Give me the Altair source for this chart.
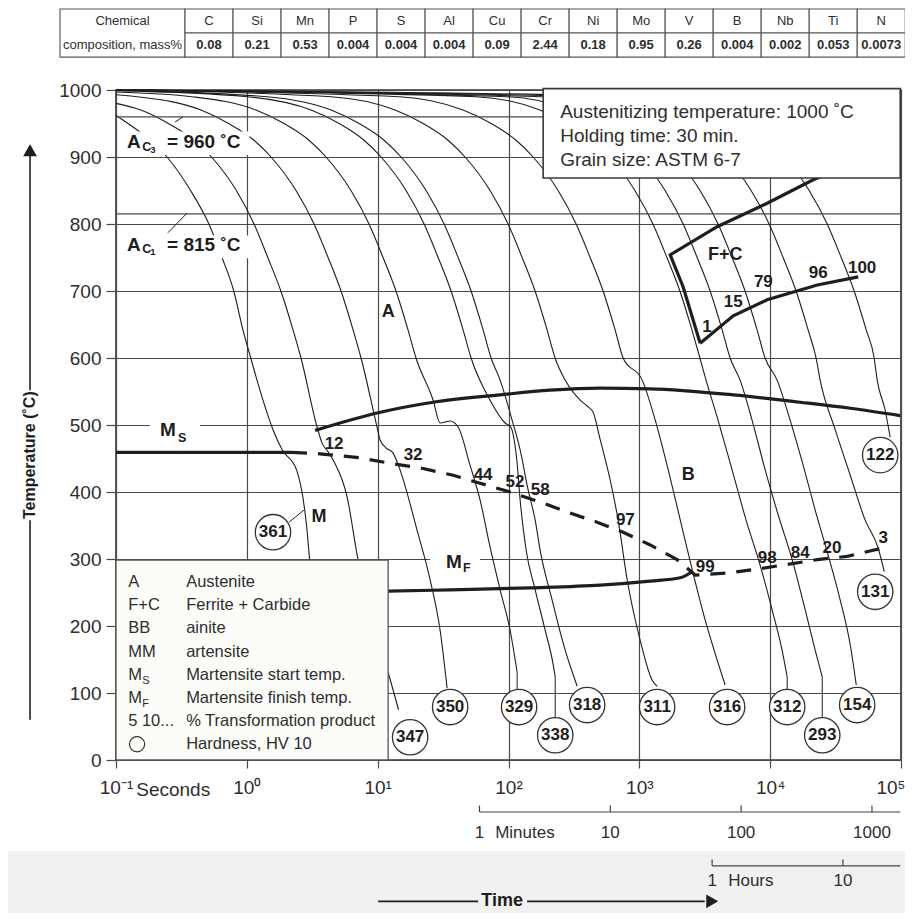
import math
import altair as alt
import pandas as pd

FONT = "Liberation Sans"
INK = "#1e1e1e"
TXT = "#2e2e2e"
GRID = "#4a4a4a"

# ---------------- chemical composition table ----------------
elements = ["C", "Si", "Mn", "P", "S", "Al", "Cu", "Cr", "Ni", "Mo", "V", "B", "Nb", "Ti", "N"]
mass_percent = ["0.08", "0.21", "0.53", "0.004", "0.004", "0.004", "0.09", "2.44",
                "0.18", "0.95", "0.26", "0.004", "0.002", "0.053", "0.0073"]

# ---------------- cooling curves: log10(time / s) and temperature (°C) ----------------
cool_log_t = {
    "c1": [-1.0, -0.74, -0.61, -0.43, -0.29, -0.19, -0.10, -0.03, 0.03, 0.10, 0.20, 0.27, 0.38, 0.46, 0.48, 0.51],
    "c2": [-1.0, -0.81, -0.60, -0.40, -0.27, -0.08, 0.055, 0.16, 0.26, 0.353, 0.414, 0.537, 0.575, 0.621, 0.667,
           0.766, 0.850, 0.957, 1.080, 1.160],
    "c3": [-1.0, -0.84, -0.35, -0.14, 0.055, 0.185, 0.376, 0.514, 0.621, 0.720, 0.812, 0.873, 0.995, 1.018, 1.064,
           1.118, 1.171, 1.301, 1.401, 1.477, 1.531],
    "c4": [-1.0, -0.42, 0.07, 0.284, 0.475, 0.605, 0.796, 0.934, 1.041, 1.140, 1.232, 1.293, 1.424, 1.477, 1.554,
           1.615, 1.706, 1.783, 1.859, 1.936, 2.012, 2.066],
    "c5": [-1.0, 0.002, 0.491, 0.705, 0.896, 1.026, 1.217, 1.355, 1.462, 1.561, 1.653, 1.714, 1.859, 1.974, 2.020,
           2.043, 2.066, 2.089, 2.135, 2.204, 2.280, 2.342, 2.357],
    "c6": [-1.0, 0.155, 0.644, 0.858, 1.049, 1.179, 1.370, 1.508, 1.615, 1.714, 1.806, 1.867, 1.936, 2.028, 2.089,
           2.150, 2.204, 2.242, 2.333, 2.433, 2.509, 2.525],
    "c7": [-1.0, 0.644, 1.133, 1.347, 1.538, 1.668, 1.859, 1.997, 2.104, 2.203, 2.295, 2.356, 2.433, 2.548, 2.609,
           2.647, 2.701, 2.777, 2.838, 2.907, 3.006, 3.098, 3.136],
    "c8": [-1.0, 1.164, 1.653, 1.867, 2.058, 2.188, 2.379, 2.517, 2.624, 2.723, 2.815, 2.876, 3.022, 3.122, 3.221,
           3.313, 3.404, 3.503, 3.595, 3.656],
    "c9": [-1.0, 1.751, 2.240, 2.454, 2.645, 2.775, 2.966, 3.104, 3.211, 3.310, 3.402, 3.463, 3.510, 3.602, 3.709,
           3.816, 3.923, 4.015, 4.091, 4.130],
    "c10": [-1.0, 1.982, 2.471, 2.685, 2.876, 3.006, 3.197, 3.335, 3.442, 3.541, 3.633, 3.694, 3.770, 3.862, 3.962,
            4.061, 4.168, 4.268, 4.344, 4.398],
    "c11": [-1.0, 2.249, 2.738, 2.952, 3.143, 3.273, 3.464, 3.602, 3.709, 3.808, 3.900, 3.961, 4.053, 4.153, 4.252,
            4.344, 4.443, 4.535, 4.612, 4.658],
    "c12": [-1.0, 2.639, 3.128, 3.342, 3.533, 3.663, 3.854, 3.992, 4.099, 4.198, 4.290, 4.351, 4.382, 4.497, 4.612,
            4.726, 4.826, 4.872],
    "c13": [-1.0, 3.083, 3.572, 3.786, 3.977, 4.107, 4.298, 4.436, 4.543, 4.642, 4.734, 4.795, 4.818, 4.879, 4.917],
}
cool_temp = {
    "c1": [962, 925, 900, 850, 800, 750, 700, 642, 600, 552, 493, 463, 433, 343, 299, 254],
    "c2": [980, 970, 950, 925, 900, 850, 800, 750, 700, 642, 600, 497, 473, 460, 445, 393, 299, 216, 131, 75],
    "c3": [993, 990, 970, 950, 925, 900, 850, 800, 750, 700, 642, 600, 497, 478, 466, 458, 433, 343, 269, 194, 107],
    "c4": [997, 990, 970, 950, 925, 900, 850, 800, 750, 700, 642, 600, 537, 503, 506, 497, 440, 388, 318, 254, 194, 131],
    "c5": [999, 990, 970, 950, 925, 900, 850, 800, 750, 700, 642, 600, 537, 503, 496, 478, 443, 388, 313, 254, 194,
           142, 124],
    "c6": [999.5, 990, 970, 950, 925, 900, 850, 800, 750, 700, 642, 600, 567, 507, 463, 403, 358, 313, 239, 164, 119, 110],
    "c7": [1000, 990, 970, 950, 925, 900, 850, 800, 750, 700, 642, 600, 567, 537, 527, 519, 478, 418, 358, 269, 179,
           119, 110],
    "c8": [1000, 990, 970, 950, 925, 900, 850, 800, 750, 700, 642, 600, 567, 507, 433, 358, 284, 209, 149, 112],
    "c9": [1000, 990, 970, 950, 925, 900, 850, 800, 750, 700, 642, 600, 567, 507, 433, 358, 291, 224, 164, 124],
    "c10": [1000, 990, 970, 950, 925, 900, 850, 800, 750, 700, 642, 600, 567, 507, 433, 366, 299, 224, 164, 124],
    "c11": [1000, 990, 970, 950, 925, 900, 850, 800, 750, 700, 642, 600, 567, 507, 440, 373, 306, 239, 172, 112],
    "c12": [1000, 990, 970, 950, 925, 900, 850, 800, 750, 700, 642, 600, 567, 493, 425, 358, 316, 281],
    "c13": [1000, 990, 970, 950, 925, 900, 850, 800, 750, 700, 642, 600, 567, 522, 482],
}

# ---------------- hardness HV 10 (circles) ----------------
hv_values = ["361", "347", "350", "329", "338", "318", "311", "316", "312", "293", "154", "131", "122"]
hv_log_t = [0.200, 1.248, 1.554, 2.081, 2.357, 2.601, 3.136, 3.671, 4.130, 4.398, 4.665, 4.803, 4.841]
hv_temp = [340, 34, 79, 79, 37, 82, 79, 79, 79, 37, 82, 251, 455]

# short connectors from curve ends to hardness circles
lead_log_t = {"l361": [0.437, 0.323], "l329": [2.066, 2.066], "l338": [2.357, 2.357],
              "l312": [4.130, 4.130], "l293": [4.398, 4.398]}
lead_temp = {"l361": [373, 355], "l329": [131, 105], "l338": [124, 64],
             "l312": [124, 105], "l293": [124, 64]}

# ---------------- % transformation product ----------------
pct_text = ["12", "32", "44", "52", "58", "97", "99", "98", "84", "20", "3", "1", "15", "79", "96", "100"]
pct_log_t = [0.667, 1.271, 1.806, 2.050, 2.243, 2.893, 3.503, 3.977, 4.229, 4.473, 4.864,
             3.518, 3.718, 3.948, 4.367, 4.703]
pct_temp = [472, 455, 425, 415, 403, 358, 288, 302, 309, 316, 331, 646, 684, 713, 727, 734]

# ---------------- transformation boundaries ----------------
bs_log_t = [0.522, 0.996, 1.424, 1.936, 2.318, 2.701, 3.083, 3.718, 4.230, 4.612, 4.994]
bs_temp = [492, 518, 534, 545, 552, 555, 554, 545, 534, 525, 514]
ms_solid_log_t = [-1.0, 0.345]
ms_solid_temp = [459, 459]
ms_dash_log_t = [0.345, 0.560, 0.865, 1.118, 1.324, 1.577, 1.783, 2.012, 2.242, 2.448, 2.677, 2.876, 3.083,
                 3.289, 3.427, 3.671, 3.901, 4.100, 4.360, 4.589, 4.787, 4.902]
ms_dash_temp = [459, 457, 451, 442, 436, 425, 413, 400, 385, 370, 355, 340, 321, 299, 276, 279, 285, 291, 299,
                304, 313, 318]
mf_log_t = [0.8, 1.080, 1.554, 2.165, 2.701, 3.083, 3.312, 3.404]
mf_temp = [251, 252, 254, 257, 261, 267, 272, 281]
fc_start_log_t = [4.612, 4.329, 3.977, 3.595, 3.236, 3.335, 3.465]
fc_start_temp = [888, 866, 831, 796, 754, 706, 622]
fc_finish_log_t = [3.465, 3.718, 3.977, 4.360, 4.673]
fc_finish_temp = [622, 663, 687, 709, 721]

# ---------------- region labels ----------------
phase_text = ["A", "B", "M", "F+C"]
phase_log_t = [1.080, 3.373, 0.552, 3.657]
phase_temp = [669, 425, 363, 754]

ac_temps = [960, 815]

info_lines = ["Austenitizing temperature: 1000 ˚C", "Holding time: 30 min.", "Grain size: ASTM 6-7"]

legend_codes = ["A", "F+C", "BB", "MM", "M", "M", "5 10...", ""]
legend_subs = ["", "", "", "", "S", "F", "", ""]
legend_desc = ["Austenite", "Ferrite + Carbide", "ainite", "artensite", "Martensite start temp.",
               "Martensite finish temp.", "% Transformation product", "Hardness, HV 10"]

second_ticks = [0.1, 1, 10, 100, 1000, 10000, 100000]
second_labels = ["10⁻¹", "10⁰", "10¹", "10²", "10³", "10⁴", "10⁵"]
temp_ticks = [0, 100, 200, 300, 400, 500, 600, 700, 800, 900, 1000]
minute_ticks = [1, 10, 100, 1000]
hour_ticks = [1, 10]

# =====================================================================
XS = alt.Scale(type="log", domain=[0.1, 1e5], nice=False)
YS = alt.Scale(domain=[0, 1000], nice=False, zero=False)

label_js = "[" + ",".join("'" + s + "'" for s in second_labels) + "][round(log(datum.value)/LN10)+1]"
X_AXIS = alt.Axis(values=second_ticks, grid=True, gridColor=GRID, gridWidth=1.2, domain=False,
                  tickSize=8, tickColor=GRID, tickWidth=1.2, labelFont=FONT, labelFontSize=19,
                  labelColor=TXT, labelPadding=10, labelFlush=False, title=None, labelExpr=label_js,
                  labelAlign={"condition": {"test": "datum.value >= 100000", "value": "right"},
                              "value": "center"},
                  labelOffset={"condition": {"test": "datum.value >= 100000", "value": 4}, "value": 0})
Y_AXIS = alt.Axis(values=temp_ticks, grid=True, gridColor=GRID, gridWidth=1.2, domain=False, format="d",
                  tickSize=10, tickColor=GRID, tickWidth=1.2, labelFont=FONT, labelFontSize=19,
                  labelColor=TXT, labelPadding=5, labelFlush=False, title=None)


def ex():
    return alt.X("t:Q", scale=XS, axis=X_AXIS, title=None)


def ey():
    return alt.Y("T:Q", scale=YS, axis=Y_AXIS, title=None)


def seg_df(groups_lt, groups_T):
    rows = []
    for g in groups_lt:
        for i, (a, b) in enumerate(zip(groups_lt[g], groups_T[g])):
            rows.append({"g": g, "i": i, "t": 10 ** a, "T": b})
    return pd.DataFrame(rows)


def lines(df, width=1.0, color=INK, dash=None, interp="linear"):
    kw = dict(strokeWidth=width, color=color, interpolate=interp)
    if dash:
        kw["strokeDash"] = dash
    return alt.Chart(df).mark_line(**kw).encode(x=ex(), y=ey(), detail="g:N", order="i:Q")


def txt_df(texts, lts, temps):
    return pd.DataFrame({"s": texts, "t": [10 ** v for v in lts], "T": temps})


def texts(df, size, weight="normal", align="center", color=INK, angle=None):
    kw = dict(font=FONT, fontSize=size, fontWeight=weight, align=align, baseline="middle", color=color)
    if angle is not None:
        kw["angle"] = angle
    return alt.Chart(df).mark_text(**kw).encode(x=ex(), y=ey(), text="s:N")


def rect_df(items):
    return pd.DataFrame([{"t": 10 ** a, "t2": 10 ** b, "T": c, "T2": d} for a, b, c, d in items])


def rects(df, fill, stroke=None, width=1.0):
    kw = dict(fill=fill, strokeWidth=width if stroke else 0)
    if stroke:
        kw["stroke"] = stroke
    return alt.Chart(df).mark_rect(**kw).encode(x=ex(), x2="t2:Q", y=ey(), y2="T2:Q")


layers = []

# cooling curves
curves = seg_df(cool_log_t, cool_temp)
layers.append(lines(curves, width=1.1, interp="monotone"))

# light grey band at the bottom of the figure
layers.append(rects(rect_df([(-1.9, 5.2, -136, -245)]), "#f1f1f1"))

# Ac3 / Ac1 lines
layers.append(alt.Chart(pd.DataFrame({"T": ac_temps})).mark_rule(color=GRID, strokeWidth=1.2).encode(y=ey()))

# gaps in grid lines behind M_S and M_F labels
layers.append(rects(rect_df([(-0.740, -0.358, 495, 505), (1.401, 1.783, 295, 305)]), "white"))

# leaders
layers.append(lines(seg_df(lead_log_t, lead_temp), width=1.0))

# transformation boundaries
layers.append(lines(seg_df({"bs": bs_log_t, "mf": mf_log_t}, {"bs": bs_temp, "mf": mf_temp}),
                    width=3.2, interp="monotone"))
layers.append(lines(seg_df({"fs": fc_start_log_t, "ff": fc_finish_log_t, "ms": ms_solid_log_t},
                           {"fs": fc_start_temp, "ff": fc_finish_temp, "ms": ms_solid_temp}), width=3.2))
layers.append(lines(seg_df({"md": ms_dash_log_t}, {"md": ms_dash_temp}), width=3.2, dash=[15, 11]))

# white backgrounds behind Ac labels
layers.append(rects(rect_df([(-0.93, 0.02, 903, 938), (-0.93, 0.02, 749, 783)]), "white"))

# info box
layers.append(rects(rect_df([(2.265, 4.994, 868.7, 1002)]), "white", stroke="#3a3a3a", width=1.6))
layers.append(texts(txt_df(info_lines, [2.395] * 3, [967, 931, 896]), 19, align="left", color=TXT))

# legend box
layers.append(rects(rect_df([(-1.0, 1.080, 0, 298.5)]), "#fcfcf9", stroke="#555555", width=1.3))
row_T = [265.7 - 34.6 * i for i in range(len(legend_desc))]
layers.append(texts(txt_df(legend_codes, [-0.907] * len(row_T), row_T), 16.5, align="left", color=TXT))
layers.append(texts(txt_df(legend_subs, [-0.80] * len(row_T), [v - 9 for v in row_T]), 11, align="left", color=TXT))
layers.append(texts(txt_df(legend_desc, [-0.464] * len(row_T), row_T), 16.5, align="left", color=TXT))
layers.append(alt.Chart(txt_df([""], [-0.839], [row_T[-1]])).mark_point(
    shape="circle", size=230, filled=False, stroke="#333", strokeWidth=1.2, opacity=1).encode(x=ex(), y=ey()))

# hardness circles
hv = txt_df(hv_values, hv_log_t, hv_temp)
layers.append(alt.Chart(hv).mark_circle(size=1250, fill="white", stroke="#333", strokeWidth=1.3,
                                        opacity=1).encode(x=ex(), y=ey()))
layers.append(texts(hv, 17, weight="bold"))

# % labels and phase labels
layers.append(texts(txt_df(pct_text, pct_log_t, pct_temp), 17, weight="bold"))
layers.append(texts(txt_df(phase_text, phase_log_t, phase_temp), 18, weight="bold"))

# Ac / Ms / Mf labels with subscripts
layers.append(texts(txt_df(["A", "A", "= 960 ˚C", "= 815 ˚C", "M", "M"],
                           [-0.915, -0.915, -0.610, -0.610, -0.664, 1.523],
                           [923, 769, 923, 769, 492, 296]), 19, weight="bold", align="left"))
layers.append(texts(txt_df(["C", "C", "S", "F"], [-0.800, -0.800, -0.526, 1.653], [915, 763, 481, 286]),
                    12.5, weight="bold", align="left"))
layers.append(texts(txt_df(["3", "1"], [-0.738, -0.738], [910, 758]), 9.5, weight="bold", align="left"))
layers.append(lines(seg_df({"a3": [-0.549, -0.488], "a1": [-0.603, -0.458]},
                           {"a3": [952, 960], "a1": [787, 816]}), width=1.0))

# chemical composition table
TAB_X0, TAB_X1, COL_W = -1.428, -0.4725, 0.367
TAB_TOP, TAB_MID, TAB_BOT = 1121, 1085, 1049
cells = [(TAB_X0, TAB_X1, TAB_BOT, TAB_TOP)]
for i in range(len(elements)):
    a = TAB_X1 + i * COL_W
    cells.append((a, a + COL_W, TAB_MID, TAB_TOP))
    cells.append((a, a + COL_W, TAB_BOT, TAB_MID))
layers.append(rects(rect_df(cells), "white", stroke="#555555", width=1.1))
col_mid = [TAB_X1 + (i + 0.5) * COL_W for i in range(len(elements))]
layers.append(texts(txt_df(elements, col_mid, [(TAB_MID + TAB_TOP) / 2] * len(elements)), 13, color=TXT))
layers.append(texts(txt_df(mass_percent, col_mid, [(TAB_MID + TAB_BOT) / 2] * len(elements)), 13,
                    weight="bold", color=TXT))
layers.append(texts(txt_df(["Chemical", "composition, mass%"], [(TAB_X0 + TAB_X1) / 2] * 2,
                           [(TAB_MID + TAB_TOP) / 2, (TAB_MID + TAB_BOT) / 2]), 13, color=TXT))

# y title with arrow
layers.append(texts(txt_df(["Temperature (˚C)"], [-1.657], [455]), 16, weight="bold", angle=270))
layers.append(lines(seg_df({"u": [-1.657, -1.657], "d": [-1.657, -1.657]},
                           {"u": [905, 552], "d": [358, 60]}), width=1.6))
layers.append(alt.Chart(txt_df([""], [-1.657], [910])).mark_point(
    shape="triangle-up", size=190, filled=True, fill=INK, strokeWidth=0, opacity=1).encode(x=ex(), y=ey()))

# seconds label
layers.append(texts(txt_df(["Seconds"], [-0.563], [-45]), 19, align="center", color=TXT))

# minutes / hours scales
minute_s = [60 * m for m in minute_ticks]
hour_s = [3600 * h for h in hour_ticks]
sec = {"mline": [math.log10(minute_s[0]), 4.994], "hline": [math.log10(hour_s[0]), 4.994]}
secT = {"mline": [-77.6, -77.6], "hline": [-158, -158]}
for k, s in enumerate(minute_s):
    sec[f"mt{k}"] = [math.log10(s)] * 2
    secT[f"mt{k}"] = [-77.6, -68]
for k, s in enumerate(hour_s):
    sec[f"ht{k}"] = [math.log10(s)] * 2
    secT[f"ht{k}"] = [-158, -148.5]
layers.append(lines(seg_df(sec, secT), width=1.2, color="#444"))
layers.append(texts(pd.DataFrame({"s": [str(m) for m in minute_ticks], "t": minute_s, "T": [-109] * 4}),
                    17, color=TXT))
layers.append(texts(pd.DataFrame({"s": [str(h) for h in hour_ticks], "t": hour_s, "T": [-180] * 2}),
                    17, color=TXT))
layers.append(texts(txt_df(["Minutes", "Hours"], [1.898, 3.679], [-109, -180]), 17, align="left", color=TXT))

# time arrow
layers.append(texts(txt_df(["Time"], [1.951], [-211]), 18, weight="bold"))
layers.append(lines(seg_df({"l": [1.004, 1.768], "r": [2.142, 3.50]}, {"l": [-211, -211], "r": [-211, -211]}),
                    width=1.6))
layers.append(alt.Chart(txt_df([""], [3.557], [-211])).mark_point(
    shape="triangle-right", size=190, filled=True, fill=INK, strokeWidth=0, opacity=1).encode(x=ex(), y=ey()))

chart = alt.layer(*layers).properties(
    width=785, height=670,
    autosize=alt.AutoSizeParams(type="none"),
    padding={"left": 108, "top": 82, "right": 4, "bottom": 153},
).configure_view(stroke="#333333", strokeWidth=1.6)

chart.save("out.html", embed_options={"renderer": "svg", "actions": False})
